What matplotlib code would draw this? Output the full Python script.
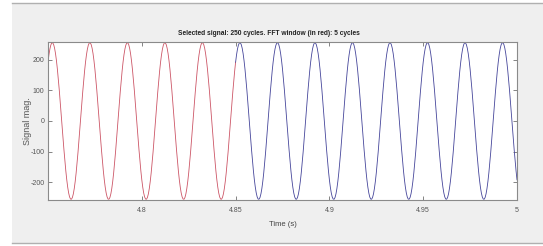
import numpy as np
import matplotlib
matplotlib.use("Agg")
import matplotlib.pyplot as plt
from matplotlib.patches import Rectangle
from matplotlib.lines import Line2D

# signal: 50 Hz (250 cycles in 5 s), amplitude ~255
freq_hz = 50.0
amplitude = 255.0
first_peak_s = 4.7523
t_start, t_end = 4.75, 5.0
fft_cycles = 5
fs = 2000.0  # sampling rate of the plotted signal

xticks = [4.8, 4.85, 4.9, 4.95, 5.0]
xtick_labels = ["4.8", "4.85", "4.9", "4.95", "5"]
yticks = [-200, -100, 0, 100, 200]
ytick_labels = ["-200", "-100", "0", "100", "200"]

title = "Selected signal: 250 cycles. FFT window (in red): 5 cycles"

t = np.arange(t_start, t_end + 1e-9, 1 / fs)
sig = amplitude * np.cos(2 * np.pi * freq_hz * (t - first_peak_s))
t_win = t_start + fft_cycles / freq_hz
n_red = int(np.sum(t <= t_win + 1e-9))

plt.rcParams["font.family"] = ["Liberation Sans Narrow", "Liberation Sans", "DejaVu Sans"]

fig = plt.figure(figsize=(5.43, 2.46), dpi=100, facecolor="white")
W, H = 543, 246
fig.patches.append(Rectangle((12 / W, 3 / H), 1 - 12 / W, 240 / H, transform=fig.transFigure,
                             facecolor="#efefef", edgecolor="none", zorder=-5))
for yy in (3, 243):
    fig.lines.append(Line2D([12 / W, 1], [1 - yy / H] * 2, transform=fig.transFigure,
                            color="#b0b0b0", lw=1.0, zorder=-4))

ax = fig.add_axes([48 / W, 1 - 200 / H, (517 - 48) / W, (200 - 42) / H])
ax.set_zorder(2)
ax.set_facecolor("white")
ax.plot(t[:n_red], sig[:n_red], color="#cc5566", lw=0.6)
ax.plot(t[n_red - 1:], sig[n_red - 1:], color="#45459a", lw=0.6)

ax.set_xlim(t_start, t_end)
ax.set_ylim(-257, 257)
ax.set_xticks(xticks)
ax.set_xticklabels(xtick_labels)
ax.set_yticks(yticks)
ax.set_yticklabels(ytick_labels)
ax.tick_params(direction="in", top=True, right=True, length=3, width=0.6,
               colors="#707070", labelsize=5, labelcolor="#555555", pad=5)
ax.tick_params(axis="y", pad=2.5)
for s in ax.spines.values():
    s.set_color("#8a8a8a")
    s.set_linewidth(0.8)

ax.set_title(title, fontsize=4.8, fontweight="bold", color="#222222", x=(269 - 48) / 469, pad=5)
ax.set_xlabel("Time (s)", fontsize=5.5, color="#444444", labelpad=5)
ax.set_ylabel("Signal mag.", fontsize=6.5, color="#555555")
ax.yaxis.set_label_coords((32 - 48) / 469, 0.5)

fig.savefig("out.png", dpi=100)
